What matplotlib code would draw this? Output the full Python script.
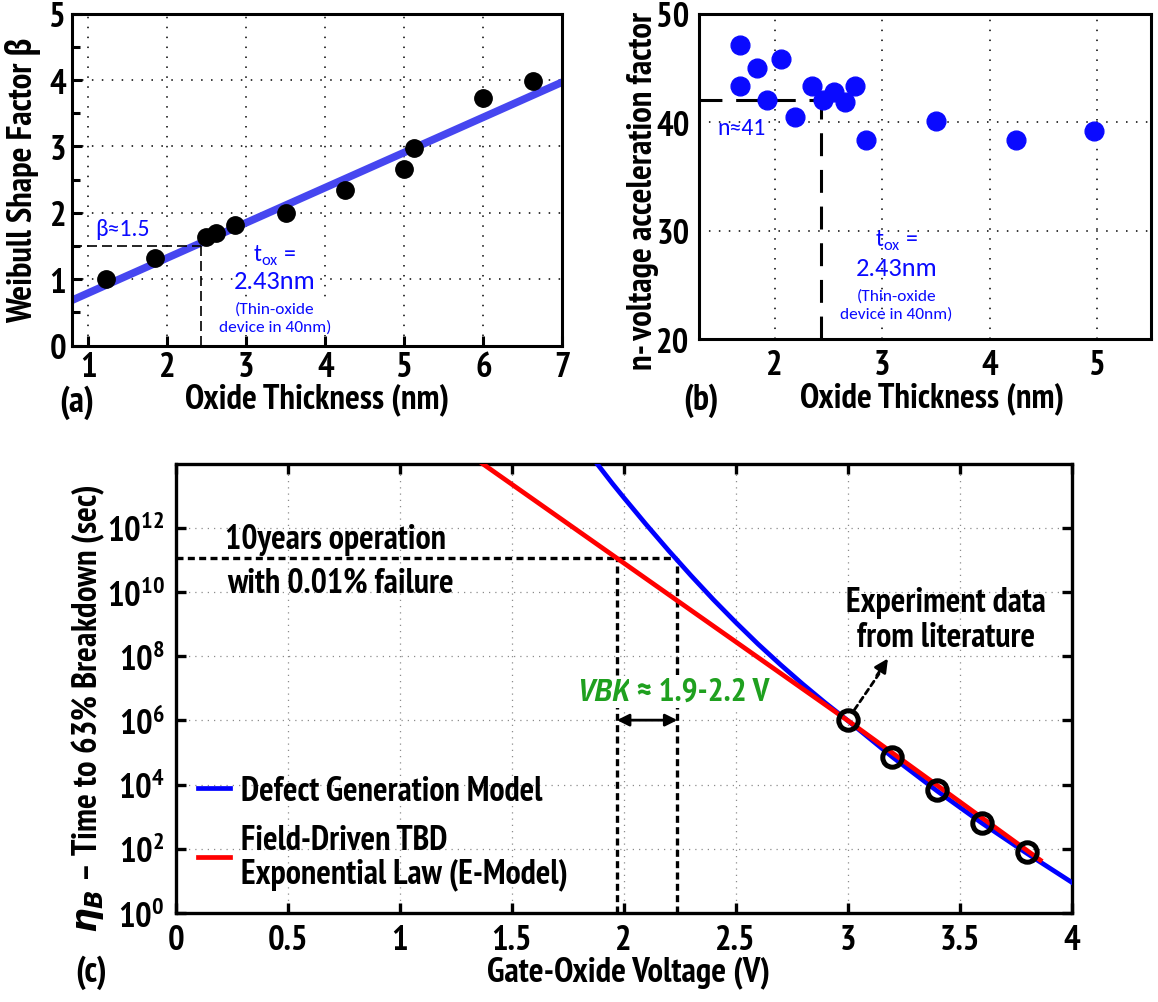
import matplotlib
matplotlib.use("Agg")
import matplotlib.pyplot as plt
import numpy as np
from matplotlib.ticker import FixedLocator

# ---- panel (a): Weibull shape factor vs oxide thickness
a_thickness = [1.23, 1.85, 2.49, 2.62, 2.86, 3.50, 4.25, 4.99, 5.12, 5.99, 6.63]
a_beta = [1.00, 1.32, 1.63, 1.70, 1.82, 2.00, 2.35, 2.66, 2.98, 3.73, 3.99]
a_fit_x = [0.79, 7.0]
a_fit_y = [0.68, 3.97]

# ---- panel (b): voltage acceleration factor vs oxide thickness
b_thickness = [1.68, 1.84, 2.06, 1.68, 1.93, 2.19, 2.35, 2.45, 2.55, 2.65, 2.75,
               2.85, 3.50, 4.24, 4.97]
b_n = [47.1, 45.0, 45.8, 43.3, 42.0, 40.5, 43.3, 42.0, 42.8, 41.9, 43.3,
       38.4, 40.1, 38.4, 39.2]

# thin-oxide device marker
tox = 2.43
beta_at_tox = 1.5
n_at_tox = 42.0

# ---- panel (c): time to breakdown vs gate voltage (times as log10 seconds)
c_exp_voltage = [3.0, 3.2, 3.4, 3.6, 3.8]
c_exp_log = [6.0, 4.86, 3.84, 2.82, 1.90]
c_emodel_voltage = [1.37, 3.0, 3.86]
c_emodel_log = [14.0, 6.0, 1.65]
c_defect_voltage = [1.88, 1.95, 2.0, 2.1, 2.2, 2.3, 2.4, 2.5, 2.6, 2.7, 2.8, 2.9,
                    3.0, 3.2, 3.4, 3.6, 3.8, 4.0]
c_defect_log = [14.01, 13.38, 12.95, 12.11, 11.30, 10.52, 9.77, 9.06, 8.38, 7.74,
                7.13, 6.55, 6.0, 4.86, 3.80, 2.80, 1.86, 0.96]
c_target_log = 11.05
c_vbk = [1.97, 2.24]

NARROW = ["PT Sans Narrow", "Open Sans Condensed", "DejaVu Sans"]
plt.rcParams["font.family"] = NARROW
plt.rcParams["font.weight"] = "bold"
plt.rcParams["axes.labelweight"] = "bold"
plt.rcParams["mathtext.fontset"] = "custom"
plt.rcParams["mathtext.rm"] = "PT Sans Narrow:bold"
plt.rcParams["mathtext.it"] = "DejaVu Sans:italic:bold"
plt.rcParams["mathtext.bf"] = "PT Sans Narrow:bold"

BLUE = "#0a0aff"
NOTE = dict(family=["Carlito", "Lato", "DejaVu Sans"], weight="normal", color=BLUE)
TICK_FS = 25
LABEL_FS = 25
TEXT_FS = 24.5

fig = plt.figure(figsize=(11.58, 10.03), dpi=100)
ax_a = fig.add_axes([0.0619, 0.6545, 0.4237, 0.3308])
ax_b = fig.add_axes([0.6039, 0.6610, 0.3901, 0.3243])
ax_c = fig.add_axes([0.1517, 0.0887, 0.7737, 0.4480])

grid_dots = dict(color="black", linestyle=(0, (1, 5.5)), linewidth=1.1)
white_box = dict(fc="white", ec="none", pad=1)

# ---------------- (a)
ax_a.plot(a_fit_x, a_fit_y, color="#4646f0", lw=5.5, solid_capstyle="butt", zorder=2)
ax_a.plot(a_thickness, a_beta, "o", color="black", ms=12.5, zorder=3)
ax_a.plot([a_fit_x[0], tox], [beta_at_tox, beta_at_tox], color="black", lw=1.2,
          dashes=(6, 3), zorder=2)
ax_a.plot([tox, tox], [0, beta_at_tox], color="black", lw=1.2, dashes=(6, 3), zorder=2)
ax_a.set_xlim(0.79, 7)
ax_a.set_ylim(0, 5)
ax_a.set_xticks(range(1, 8))
ax_a.set_yticks(range(0, 6))
ax_a.yaxis.set_minor_locator(FixedLocator([0.5, 1.5, 2.5, 3.5, 4.5]))
ax_a.grid(True, **grid_dots)
ax_a.set_axisbelow(True)
ax_a.tick_params(which="both", direction="in", width=2.2, labelsize=TICK_FS)
ax_a.tick_params(which="major", length=7, pad=4)
ax_a.tick_params(which="minor", length=6)
ax_a.text(1.43, 1.76, "β≈1.5", ha="center", va="center", fontsize=17, **NOTE)
ax_a.text(3.36, 1.36, r"t$_{\mathregular{ox}}$ =", ha="center", va="center", fontsize=17,
          bbox=white_box, **NOTE)
ax_a.text(3.36, 0.98, "2.43nm", ha="center", va="center", fontsize=19,
          bbox=white_box, **NOTE)
ax_a.text(3.36, 0.42, "(Thin-oxide\ndevice in 40nm)", ha="center", va="center",
          fontsize=12.5, linespacing=1.3, bbox=white_box, **NOTE)
ax_a.set_xlabel("Oxide Thickness (nm)", fontsize=LABEL_FS, va="center")
ax_a.xaxis.set_label_coords(0.5, -0.16)
ax_a.set_ylabel("Weibull Shape Factor β", fontsize=LABEL_FS, va="center")
ax_a.yaxis.set_label_coords(-0.099, 0.5)

# ---------------- (b)
ax_b.plot(b_thickness, b_n, "o", color=BLUE, ms=13.5, zorder=3)
ax_b.plot([1.3, tox], [n_at_tox, n_at_tox], color="black", lw=2.2, dashes=(7.5, 4.5), zorder=2)
ax_b.plot([tox, tox], [20, n_at_tox], color="black", lw=2.2, dashes=(7.5, 4.5), zorder=2)
ax_b.set_xlim(1.3, 5.5)
ax_b.set_ylim(20, 50)
ax_b.set_xticks([2, 3, 4, 5])
ax_b.set_yticks([20, 30, 40, 50])
ax_b.grid(True, **grid_dots)
ax_b.set_axisbelow(True)
ax_b.tick_params(length=0, labelsize=TICK_FS, pad=7)
ax_b.text(1.69, 39.5, "n≈41", ha="center", va="center", fontsize=17, **NOTE)
ax_b.text(3.13, 29.1, r"t$_{\mathregular{ox}}$ =", ha="center", va="center", fontsize=17, **NOTE)
ax_b.text(3.13, 26.6, "2.43nm", ha="center", va="center", fontsize=19, **NOTE)
ax_b.text(3.13, 23.2, "(Thin-oxide\ndevice in 40nm)", ha="center", va="center",
          fontsize=12.5, linespacing=1.3, **NOTE)
ax_b.set_xlabel("Oxide Thickness (nm)", fontsize=LABEL_FS, va="center")
ax_b.xaxis.set_label_coords(0.515, -0.18)
ax_b.set_ylabel("n- voltage acceleration factor", fontsize=LABEL_FS, va="center")
ax_b.yaxis.set_label_coords(-0.125, 0.458)

for ax in (ax_a, ax_b):
    for s in ax.spines.values():
        s.set_linewidth(2.2)

# ---------------- (c)
blue_line, = ax_c.plot(c_defect_voltage, 10.0 ** np.array(c_defect_log), color="#0000ff",
                       lw=3.4, label="Defect Generation Model", zorder=3)
red_line, = ax_c.plot(c_emodel_voltage, 10.0 ** np.array(c_emodel_log), color="#ff0000",
                      lw=3.4, label="Field-Driven TBD\nExponential Law (E-Model)", zorder=4)
ax_c.plot(c_exp_voltage, 10.0 ** np.array(c_exp_log), "o", ms=14, mfc="none", mec="black",
          mew=3.6, zorder=5)

target = 10.0 ** c_target_log
dash_kw = dict(color="black", lw=2.4, dashes=(2.1, 1.3), zorder=2)
ax_c.plot([0, c_vbk[1]], [target, target], **dash_kw)
for v in c_vbk:
    ax_c.plot([v, v], [1, target], **dash_kw)

ax_c.set_xlim(0, 4)
ax_c.set_yscale("log")
ax_c.set_ylim(1, 1e14)
ax_c.set_xticks([0, 0.5, 1, 1.5, 2, 2.5, 3, 3.5, 4])
ax_c.set_xticklabels(["0", "0.5", "1", "1.5", "2", "2.5", "3", "3.5", "4"])
ax_c.yaxis.set_major_locator(FixedLocator([10.0 ** k for k in range(0, 13, 2)]))
ax_c.yaxis.set_minor_locator(FixedLocator([]))
ax_c.grid(True, color="#8c8c8c", linestyle=(0, (1, 4)), lw=0.9)
ax_c.set_axisbelow(True)
ax_c.tick_params(direction="in", length=7, width=2.4, top=True, right=True,
                 labelsize=TICK_FS, pad=8)
for s in ax_c.spines.values():
    s.set_linewidth(2.4)

ax_c.text(0.22, 10 ** 11.65, "10years operation", ha="left", va="center", fontsize=TEXT_FS)
ax_c.text(0.23, 10 ** 10.31, "with 0.01% failure", ha="left", va="center", fontsize=TEXT_FS)

GREEN = "#1fa01f"
vbk_label = ax_c.text(1.91, 10 ** 6.9, "VBK", ha="center", va="center", style="italic",
                      family=["IBM Plex Sans Condensed", "DejaVu Sans"], fontsize=22,
                      color=GREEN, bbox=white_box, zorder=3)
ax_c.annotate(" ≈ 1.9-2.2 V", xy=(1, 0.5), xycoords=vbk_label, ha="left", va="center",
              fontsize=24, color=GREEN, bbox=white_box, zorder=3)
ax_c.annotate("", xy=(c_vbk[0], 10 ** 6.01), xytext=(c_vbk[1], 10 ** 6.01),
              arrowprops=dict(arrowstyle="<|-|>", lw=2, color="black", mutation_scale=18,
                              shrinkA=0, shrinkB=0), zorder=3)
ax_c.text(3.44, 10 ** 9.15, "Experiment data\nfrom literature", ha="center", va="center",
          fontsize=TEXT_FS, linespacing=1.1)
ax_c.annotate("", xy=(3.14, 10 ** 7.45), xytext=(3.03, 10 ** 6.33),
              arrowprops=dict(arrowstyle="-", lw=2, color="black", linestyle=(0, (2, 1.5)),
                              shrinkA=0, shrinkB=0))
ax_c.annotate("", xy=(3.18, 10 ** 7.93), xytext=(3.13, 10 ** 7.4),
              arrowprops=dict(arrowstyle="-|>", lw=2, color="black", mutation_scale=20,
                              shrinkA=0, shrinkB=0))

leg = ax_c.legend(handles=[blue_line, red_line], loc="lower left",
                  bbox_to_anchor=(0.025, 0.052), frameon=False, fontsize=TEXT_FS,
                  handlelength=0.95, handletextpad=0.3, labelspacing=0.5,
                  borderpad=0, borderaxespad=0)
for t in leg.get_texts():
    t.set_linespacing(1.05)

ax_c.set_xlabel("Gate-Oxide Voltage (V)", fontsize=LABEL_FS, va="center")
ax_c.xaxis.set_label_coords(0.505, -0.131)
ax_c.set_ylabel(r"$\eta_B$ – Time to 63% Breakdown (sec)", fontsize=LABEL_FS, va="center")
ax_c.yaxis.set_label_coords(-0.098, 0.458)

fig.text(77 / 1158, 1 - 403 / 1003, "(a)", ha="center", va="center", fontsize=26)
fig.text(701 / 1158, 1 - 401 / 1003, "(b)", ha="center", va="center", fontsize=26)
fig.text(91 / 1158, 1 - 973 / 1003, "(c)", ha="center", va="center", fontsize=26)

fig.savefig("out.png", dpi=100)
